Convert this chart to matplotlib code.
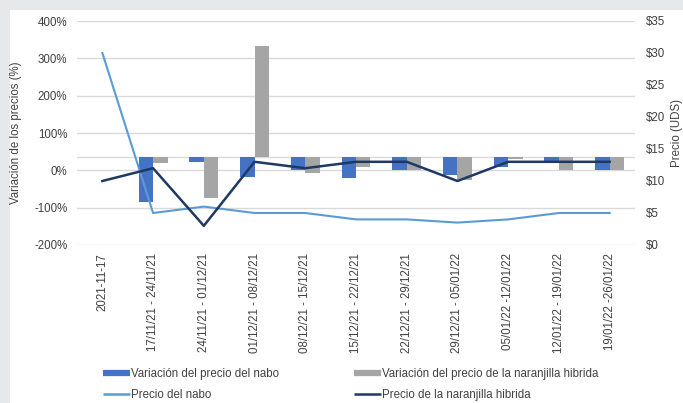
import matplotlib
matplotlib.use("Agg")
import matplotlib.pyplot as plt
from matplotlib.lines import Line2D
import numpy as np

categories = ["2021-11-17", "17/11/21 - 24/11/21", "24/11/21 - 01/12/21", "01/12/21 - 08/12/21",
              "08/12/21 - 15/12/21", "15/12/21 - 22/12/21", "22/12/21 - 29/12/21",
              "29/12/21 - 05/01/22", "05/01/22 -12/01/22", "12/01/22 - 19/01/22",
              "19/01/22 -26/01/22"]
# bar end values (%), drawn from the category-axis crossing
var_nabo = [np.nan, -84, 21, -19, 0, -21, 0, -12, 8, 23, 0]
var_naranjilla = [np.nan, 20, -73, 334, -8, 10, 0, -26, 30, 0, 0]
axis_cross = 36  # % where Excel's horizontal axis crosses the left axis
precio_nabo = [30, 5, 6, 5, 5, 4, 4, 3.5, 4, 5, 5]
precio_naranjilla = [10, 12, 3, 13, 12, 13, 13, 10, 13, 13, 13]

C_BLUE = "#4472c4"
C_GRAY = "#a5a5a5"
C_LIGHT = "#5b9bd5"
C_NAVY = "#203864"
FONT = "Liberation Sans"
FS = 8.3
TXT = "#404040"
plt.rcParams["font.family"] = [FONT, "DejaVu Sans"]

W, H = 683, 403
fig = plt.figure(figsize=(W / 100, H / 100), dpi=100)
fig.patch.set_facecolor("#e7e8ea")
fig.add_artist(plt.Rectangle((10 / W, 0), 1, 1 - 10 / H, transform=fig.transFigure,
                             facecolor="white", edgecolor="none", zorder=0))

x0, x1, yb, yt = 77, 635, 245, 21
ax = fig.add_axes([x0 / W, 1 - yb / H, (x1 - x0) / W, (yb - yt) / H])
ax.set_facecolor("none")
ax2 = ax.twinx()

x = np.arange(len(categories))
bw = 0.285
vn = np.array(var_nabo, dtype=float)
vg = np.array(var_naranjilla, dtype=float)
ax.bar(x - bw / 2, vn - axis_cross, bottom=axis_cross, width=bw, color=C_BLUE, zorder=3)
ax.bar(x + bw / 2, vg - axis_cross, bottom=axis_cross, width=bw, color=C_GRAY, zorder=3)

ax.set_ylim(-200, 400)
ax.set_yticks(np.arange(-200, 401, 100))
ax.set_yticklabels([f"{v}%" for v in range(-200, 401, 100)], fontsize=FS, color=TXT)
ax.yaxis.grid(True, color="#d9d9d9", linewidth=1, zorder=0)
ax.axhline(axis_cross, color="#d9d9d9", linewidth=1, zorder=1)
ax.set_xlim(-0.5, len(categories) - 0.5)
ax.set_xticks(x)
ax.set_xticklabels(categories, rotation=90, fontsize=FS, color=TXT)
ax.tick_params(axis="both", length=0)
ax.tick_params(axis="y", pad=7)
ax.tick_params(axis="x", pad=6)
ax.set_ylabel("Variación de los precios (%)", fontsize=FS, color=TXT)
ax.yaxis.set_label_coords((22 - x0) / (x1 - x0), 0.5)
for s in ax.spines.values():
    s.set_visible(False)

ax2.plot(x, precio_nabo, color=C_LIGHT, linewidth=1.5, zorder=4)
ax2.plot(x, precio_naranjilla, color=C_NAVY, linewidth=1.8, zorder=5)
ax2.set_ylim(0, 35)
ax2.set_yticks(np.arange(0, 36, 5))
ax2.set_yticklabels([f"${v}" for v in range(0, 36, 5)], fontsize=FS, color=TXT)
ax2.tick_params(axis="both", length=0)
ax2.tick_params(axis="y", pad=8)
ax2.set_ylabel("Precio (UDS)", fontsize=FS, color=TXT)
ax2.yaxis.set_label_coords((671 - x0) / (x1 - x0), 0.5)
for s in ax2.spines.values():
    s.set_visible(False)

h1 = [Line2D([], [], color=C_BLUE, linewidth=4.5, solid_capstyle="butt"),
      Line2D([], [], color=C_LIGHT, linewidth=1.8, solid_capstyle="butt")]
h2 = [Line2D([], [], color=C_GRAY, linewidth=4.5, solid_capstyle="butt"),
      Line2D([], [], color=C_NAVY, linewidth=1.8, solid_capstyle="butt")]
kw = dict(frameon=False, fontsize=FS, handlelength=2.3, handletextpad=0.1,
          labelspacing=0.75, borderpad=0, borderaxespad=0, loc="upper left",
          bbox_transform=fig.transFigure, labelcolor=TXT)
leg1 = fig.legend(h1, ["Variación del precio del nabo", "Precio del nabo"],
                  bbox_to_anchor=(103 / W, 1 - 368 / H), **kw)
leg2 = fig.legend(h2, ["Variación del precio de la naranjilla hibrida", "Precio de la naranjilla hibrida"],
                  bbox_to_anchor=(354 / W, 1 - 368 / H), **kw)

fig.savefig("out.png", dpi=100, facecolor=fig.get_facecolor())
